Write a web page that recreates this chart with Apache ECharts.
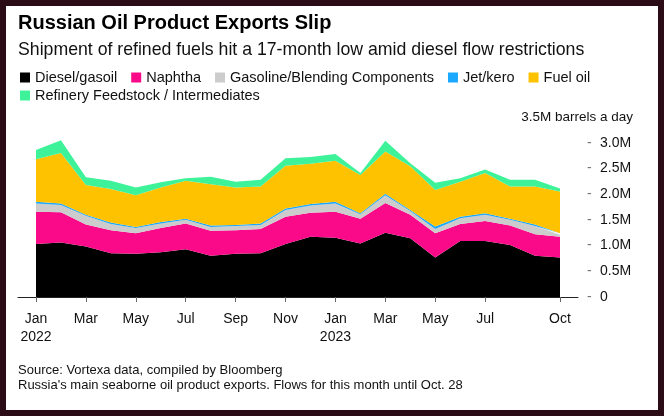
<!DOCTYPE html>
<html>
<head>
<meta charset="utf-8">
<title>Russian Oil Product Exports Slip</title>
<script src="https://cdn.jsdelivr.net/npm/echarts@6.0.0/dist/echarts.min.js"></script>
<style>
	html, body { margin: 0; padding: 0; background: #2b0b16; }
	#main {
		position: absolute; left: 0; top: 0;
		width: 664px; height: 416px;
		background: #fff;
		box-shadow: inset 0 0 0 6px #2b0b16;
	}
</style>
</head>
<body>
<div id="main"></div>
<script>
// monthly values, million barrels a day, Jan 2022 .. Oct 2023
var months = ['Jan 2022','Feb 2022','Mar 2022','Apr 2022','May 2022','Jun 2022','Jul 2022','Aug 2022','Sep 2022','Oct 2022','Nov 2022','Dec 2022',
	'Jan 2023','Feb 2023','Mar 2023','Apr 2023','May 2023','Jun 2023','Jul 2023','Aug 2023','Sep 2023','Oct 2023'];
var diesel   = [1.03,1.06,0.98,0.85,0.84,0.87,0.93,0.80,0.84,0.85,1.03,1.17,1.15,1.04,1.25,1.14,0.77,1.09,1.09,1.01,0.80,0.77];
var naphtha  = [0.63,0.59,0.43,0.45,0.40,0.47,0.50,0.49,0.46,0.47,0.53,0.47,0.51,0.48,0.58,0.46,0.47,0.33,0.39,0.38,0.42,0.40];
var gasoline = [0.16,0.14,0.17,0.12,0.10,0.09,0.07,0.07,0.08,0.08,0.13,0.14,0.16,0.09,0.15,0.07,0.08,0.11,0.12,0.11,0.16,0.04];
var jet      = [0.03,0.03,0.02,0.03,0.02,0.03,0.02,0.03,0.02,0.03,0.03,0.03,0.03,0.02,0.03,0.02,0.05,0.03,0.03,0.02,0.03,0.03];
var fuelOil  = [0.83,0.98,0.58,0.65,0.62,0.67,0.74,0.80,0.73,0.72,0.83,0.78,0.80,0.74,0.82,0.85,0.71,0.68,0.78,0.63,0.74,0.81];
var feed     = [0.18,0.25,0.15,0.16,0.15,0.10,0.05,0.15,0.11,0.13,0.15,0.13,0.13,0.04,0.21,0.06,0.14,0.07,0.07,0.13,0.13,0.06];

var tickMonths = [0,2,4,6,8,10,12,14,16,18,21];
var tickLabels = ['Jan\n2022','Mar','May','Jul','Sep','Nov','Jan\n2023','Mar','May','Jul','Oct'];
var yTicks = [0,0.5,1,1.5,2,2.5,3];

var names = ['Diesel/gasoil','Naphtha','Gasoline/Blending Components','Jet/kero','Fuel oil','Refinery Feedstock / Intermediates'];
var colors = ['#000000','#fa0a88','#cccccc','#1ba8ff','#ffc200','#3ef29a'];
var values = [diesel, naphtha, gasoline, jet, fuelOil, feed];

var font = '"Liberation Sans", Arial, sans-serif';

var series = [];
for (var s = 0; s < names.length; s++) {
	series.push({
		name: names[s],
		type: 'line',
		stack: 'total',
		symbol: 'none',
		silent: true,
		xAxisIndex: 0,
		yAxisIndex: 0,
		lineStyle: { width: 0 },
		areaStyle: { color: colors[s], opacity: 1 },
		itemStyle: { color: colors[s] },
		data: values[s]
	});
}

var myChart = echarts.init(document.getElementById('main'), null, { renderer: 'canvas' });

myChart.setOption({
	animation: false,
	backgroundColor: 'transparent',
	textStyle: { fontFamily: font },
	title: [
		{ text: 'Russian Oil Product Exports Slip', left: 18, top: 13, padding: 0,
		  textStyle: { fontFamily: font, fontSize: 20, fontWeight: 'bold', color: '#000' } },
		{ text: 'Shipment of refined fuels hit a 17-month low amid diesel flow restrictions', left: 18, top: 41, padding: 0,
		  textStyle: { fontFamily: font, fontSize: 17.7, fontWeight: 'normal', color: '#111' } },
		{ text: '3.5M barrels a day', right: 31, top: 110, padding: 0,
		  textStyle: { fontFamily: font, fontSize: 13.5, fontWeight: 'normal', color: '#111' } },
		{ text: 'Source: Vortexa data, compiled by Bloomberg\nRussia\'s main seaborne oil product exports. Flows for this month until Oct. 28',
		  left: 18, top: 363, padding: 0,
		  textStyle: { fontFamily: font, fontSize: 13, fontWeight: 'normal', color: '#111', lineHeight: 15 } }
	],
	legend: [
		{
			left: 20, top: 70, padding: 0, itemWidth: 10, itemHeight: 10, itemGap: 14,
			icon: 'rect', selectedMode: false,
			data: names.slice(0,5),
			textStyle: { fontFamily: font, fontSize: 14.5, color: '#111' }
		},
		{
			left: 20, top: 88, padding: 0, itemWidth: 10, itemHeight: 10, itemGap: 14,
			icon: 'rect', selectedMode: false,
			data: names.slice(5),
			textStyle: { fontFamily: font, fontSize: 14.5, color: '#111' }
		}
	],
	grid: [
		{ left: 36, right: 104, top: 117, bottom: 119, containLabel: false },
		// wider band only for the baseline, which runs past the first and last month
		{ left: 18, right: 86, top: 117, bottom: 119, containLabel: false }
	],
	xAxis: [
		{
			type: 'category',
			gridIndex: 0,
			data: months,
			boundaryGap: false,
			splitLine: { show: false },
			axisLine: { show: false },
			axisTick: {
				show: true, length: 5, lineStyle: { color: '#666' },
				interval: function(i){ return tickMonths.indexOf(i) >= 0; }
			},
			axisLabel: {
				margin: 13,
				fontFamily: font, fontSize: 14, color: '#111', lineHeight: 18,
				interval: function(i){ return tickMonths.indexOf(i) >= 0; },
				formatter: function(v, i){
					var k = tickMonths.indexOf(i);
					return k >= 0 ? tickLabels[k] : '';
				}
			}
		},
		{
			type: 'value',
			gridIndex: 1,
			min: 0, max: 1,
			splitLine: { show: false },
			axisTick: { show: false },
			axisLabel: { show: false },
			axisLine: { show: true, lineStyle: { color: '#222', width: 1 } }
		}
	],
	yAxis: [
		{
			type: 'value',
			gridIndex: 0,
			position: 'right',
			min: 0,
			max: 3.5,
			interval: 0.5,
			splitLine: { show: false },
			axisLine: { show: false },
			axisTick: { show: false },
			axisLabel: {
				margin: 27,
				fontFamily: font, fontSize: 14, color: '#111',
				formatter: function(v){
					if (yTicks.indexOf(v) < 0) return '';
					var t = v === 0 ? '0' : v.toFixed(1) + 'M';
					return '{d|-}{v|' + t + '}';
				},
				rich: {
					d: { width: 13, color: '#777', fontSize: 14, fontFamily: font },
					v: { color: '#111', fontSize: 14, fontFamily: font }
				}
			}
		},
		{
			type: 'value',
			gridIndex: 1,
			min: 0, max: 1,
			show: false
		}
	],
	series: series
});
</script>
</body>
</html>
